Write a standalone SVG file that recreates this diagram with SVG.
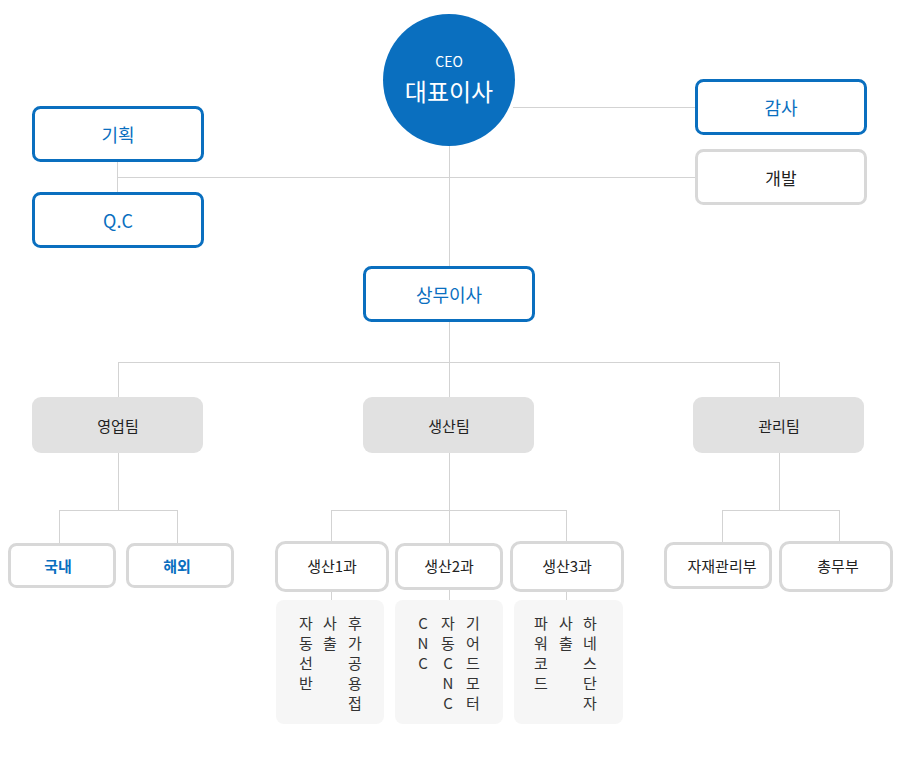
<svg xmlns="http://www.w3.org/2000/svg" width="900" height="760" viewBox="0 0 900 760">
<style>
text{font-family:"Noto Sans CJK KR","Noto Sans",sans-serif;text-anchor:middle;dominant-baseline:central}
.blue{fill:#fff;stroke:#0a6fbf;stroke-width:3}
.gray{fill:#fff;stroke:#d8d8d8;stroke-width:3}
.team{fill:#e1e1e1}
.sub{fill:#f6f6f6}
.tb{fill:#0a6fbf;font-size:18px}
.tk{fill:#222;font-size:17px}
.tt{fill:#222;font-size:15px}
.bb{fill:#0a6fbf;font-size:15px;font-weight:bold}
.v{fill:#333;font-size:15px}
.ln{stroke:#d3d3d3;stroke-width:1;fill:none}
</style>
<g id="connectors" class="ln">
<path d="M513 107.5H696"/>
<path d="M449.5 145V267"/>
<path d="M117.5 161V193M117.5 177.5H696"/>
<path d="M449.5 321V397M118.5 362.5H779.5M118.5 362V397M779.5 362V397"/>
<path d="M118.5 453V510.5M59.5 510.5H177.5M59.5 510V544M177.5 510V544"/>
<path d="M449.5 453V510.5M331.5 510.5H566.5M331.5 510V541M449.5 510V543M566.5 510V541"/>
<path d="M331.5 592V600M449.5 589V600M566.5 592V600"/>
<path d="M779.5 453V510.5M722.5 510.5H839.5M722.5 510V543M839.5 510V542"/>
</g>
<g id="ceo">
<circle cx="449" cy="80" r="66" fill="#0a6fbf"/>
<text x="449" y="61" fill="#fff" font-size="14">CEO</text>
<text x="449" y="90" fill="#fff" font-size="24">대표이사</text>
</g>
<g id="plan"><rect x="33.5" y="107.5" width="169" height="53" rx="7" class="blue"/><text x="118" y="134" class="tb">기획</text></g>
<g id="qc"><rect x="33.5" y="193.5" width="169" height="53" rx="7" class="blue"/><text x="118" y="220" class="tb">Q.C</text></g>
<g id="audit"><rect x="696.5" y="80.5" width="169" height="53" rx="7" class="blue"/><text x="781" y="107" class="tb">감사</text></g>
<g id="dev"><rect x="696.5" y="150.5" width="169" height="53" rx="7" class="gray"/><text x="781" y="177" class="tk">개발</text></g>
<g id="director"><rect x="364.5" y="267.5" width="169" height="53" rx="7" class="blue"/><text x="449" y="294" class="tb">상무이사</text></g>
<g id="sales"><rect x="32" y="397" width="171" height="56" rx="9" class="team"/><text x="118" y="425" class="tt">영업팀</text></g>
<g id="production"><rect x="363" y="397" width="171" height="56" rx="9" class="team"/><text x="449" y="425" class="tt">생산팀</text></g>
<g id="admin"><rect x="693" y="397" width="171" height="56" rx="9" class="team"/><text x="779" y="425" class="tt">관리팀</text></g>
<g id="domestic"><rect x="9.5" y="544.5" width="105" height="42" rx="7" class="gray"/><text x="58" y="565" class="bb">국내</text></g>
<g id="overseas"><rect x="127.5" y="544.5" width="105" height="42" rx="7" class="gray"/><text x="177" y="565" class="bb">해외</text></g>
<g id="prod1"><rect x="276.5" y="542.5" width="111" height="48" rx="9" class="gray"/><text x="332" y="565" class="tt">생산1과</text></g>
<g id="prod2"><rect x="396.5" y="544.5" width="105" height="44" rx="8" class="gray"/><text x="449" y="565" class="tt">생산2과</text></g>
<g id="prod3"><rect x="511.5" y="542.5" width="111" height="48" rx="9" class="gray"/><text x="567" y="565" class="tt">생산3과</text></g>
<g id="prod1-items"><rect x="276" y="600" width="108" height="124" rx="8" class="sub"/>
<text class="v"><tspan x="306" y="622">자</tspan><tspan x="306" y="642">동</tspan><tspan x="306" y="662">선</tspan><tspan x="306" y="682">반</tspan></text>
<text class="v"><tspan x="330" y="622">사</tspan><tspan x="330" y="642">출</tspan></text>
<text class="v"><tspan x="355" y="622">후</tspan><tspan x="355" y="642">가</tspan><tspan x="355" y="662">공</tspan><tspan x="355" y="682">용</tspan><tspan x="355" y="702">접</tspan></text>
</g>
<g id="prod2-items"><rect x="395" y="600" width="108" height="124" rx="8" class="sub"/>
<text class="v"><tspan x="423" y="622">C</tspan><tspan x="423" y="642">N</tspan><tspan x="423" y="662">C</tspan></text>
<text class="v"><tspan x="448" y="622">자</tspan><tspan x="448" y="642">동</tspan><tspan x="448" y="662">C</tspan><tspan x="448" y="682">N</tspan><tspan x="448" y="702">C</tspan></text>
<text class="v"><tspan x="473" y="622">기</tspan><tspan x="473" y="642">어</tspan><tspan x="473" y="662">드</tspan><tspan x="473" y="682">모</tspan><tspan x="473" y="702">터</tspan></text>
</g>
<g id="prod3-items"><rect x="514" y="600" width="109" height="124" rx="8" class="sub"/>
<text class="v"><tspan x="541" y="622">파</tspan><tspan x="541" y="642">워</tspan><tspan x="541" y="662">코</tspan><tspan x="541" y="682">드</tspan></text>
<text class="v"><tspan x="566" y="622">사</tspan><tspan x="566" y="642">출</tspan></text>
<text class="v"><tspan x="590" y="622">하</tspan><tspan x="590" y="642">네</tspan><tspan x="590" y="662">스</tspan><tspan x="590" y="682">단</tspan><tspan x="590" y="702">자</tspan></text>
</g>
<g id="materials"><rect x="665.5" y="543.5" width="105" height="44" rx="8" class="gray"/><text x="722" y="565" class="tt">자재관리부</text></g>
<g id="general"><rect x="780.5" y="542.5" width="111" height="48" rx="9" class="gray"/><text x="838" y="565" class="tt">총무부</text></g>
</svg>
